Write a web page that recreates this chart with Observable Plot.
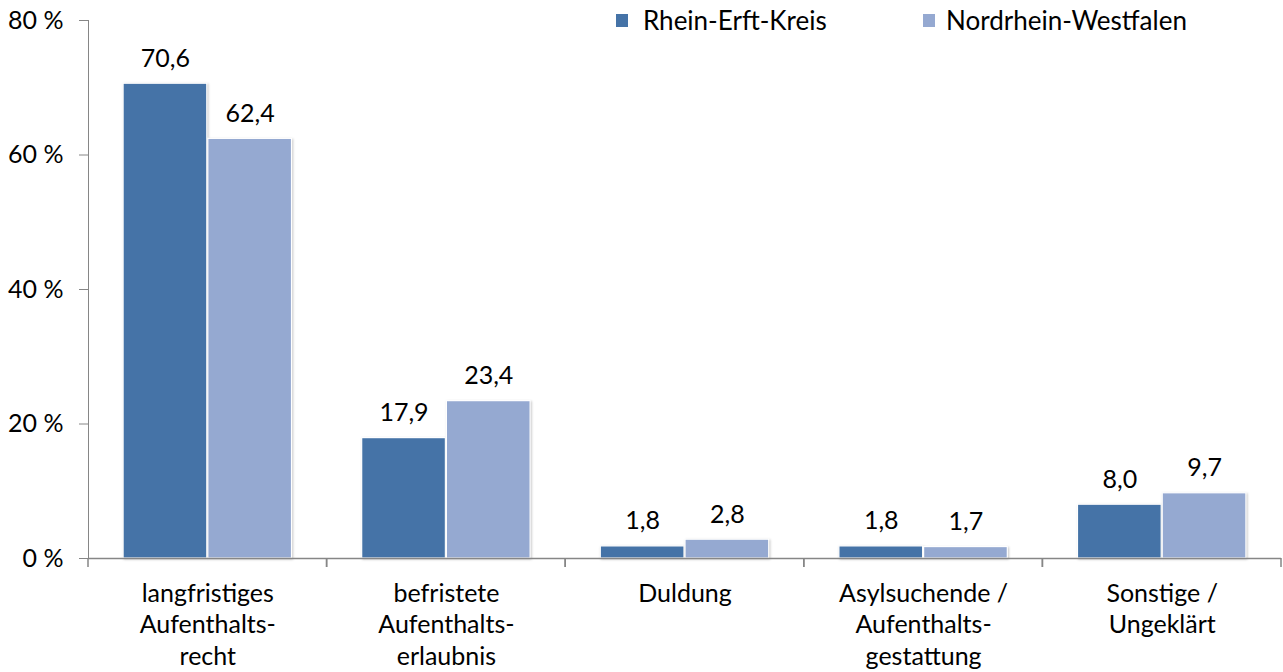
<!DOCTYPE html>
<html>
<head>
<meta charset="utf-8">
<script src="https://cdn.jsdelivr.net/npm/d3@7"></script>
<script src="https://cdn.jsdelivr.net/npm/@observablehq/plot@0.6"></script>
<style>
  body { margin: 0; background: #fff; font-family: Lato, "Open Sans", sans-serif; }
  #wrap { position: relative; width: 1283px; height: 672px; }
  #chart text { fill: #000; }
  #chart g[aria-label="bar"] rect { filter: drop-shadow(1px 1px 1px rgba(0,0,0,0.22)); }
  .lg-sw { position: absolute; top: 14px; width: 12px; height: 13px; }
  .lg-tx { position: absolute; top: 5px; font-size: 26px; line-height: 31px; color: #000; white-space: nowrap; }
</style>
</head>
<body>
<div id="wrap">
  <div id="chart"></div>
  <div id="legend"></div>
</div>
<script>
const categories = [
  "langfristiges\nAufenthalts-\nrecht",
  "befristete\nAufenthalts-\nerlaubnis",
  "Duldung",
  "Asylsuchende /\nAufenthalts-\ngestattung",
  "Sonstige /\nUngeklärt"
];
const series = ["Rhein-Erft-Kreis", "Nordrhein-Westfalen"];
const rheinErftKreis = [70.6, 17.9, 1.8, 1.8, 8.0];
const nordrheinWestfalen = [62.4, 23.4, 2.8, 1.7, 9.7];
const yTicks = [0, 20, 40, 60, 80];
const colors = ["#4573A7", "#95A9D1"];

const data = categories.flatMap((c, i) => [
  {cat: c, series: series[0], value: rheinErftKreis[i]},
  {cat: c, series: series[1], value: nordrheinWestfalen[i]}
]);

const fmt = v => v.toFixed(1).replace(".", ",");

// tick marks at the category boundaries on the x axis
const boundaryTicks = (index, scales, values, dimensions) => {
  const g = d3.create("svg:g").attr("stroke", "#868686").attr("stroke-width", 1.5);
  const y0 = scales.y(0);
  const xs = [dimensions.marginLeft, dimensions.width - dimensions.marginRight];
  for (const x of xs) {
    g.append("line").attr("x1", x).attr("x2", x).attr("y1", y0).attr("y2", y0 + 9);
  }
  return g.node();
};

const chart = Plot.plot({
  width: 1283,
  height: 672,
  marginLeft: 88,
  marginRight: 2,
  marginTop: 20,
  marginBottom: 114,
  style: {fontFamily: "Lato, 'Open Sans', sans-serif", fontSize: "25px", color: "#868686", background: "#fff"},
  fx: {domain: categories, padding: 0, round: false, axis: null},
  x: {domain: series, axis: null, paddingInner: 0.012, paddingOuter: 0.414, round: false},
  y: {domain: [0, 80], ticks: yTicks, tickFormat: d => d + " %", tickSize: 9, tickPadding: 16, line: true, label: null},
  color: {domain: series, range: colors},
  marks: [
    Plot.barY(data, {fx: "cat", x: "series", y: "value", fill: "series", stroke: "#fff", strokeWidth: 1.2}),
    Plot.text(data, {fx: "cat", x: "series", y: "value", text: d => fmt(d.value), dy: -17, lineAnchor: "bottom"}),
    Plot.ruleY([0], {stroke: "#868686", strokeWidth: 1.5}),
    boundaryTicks,
    Plot.text(categories, {fx: d => d, text: d => d, frameAnchor: "bottom", lineAnchor: "top", dy: 21, lineHeight: 1.26})
  ]
});
document.getElementById("chart").appendChild(chart);

// legend
const legend = document.getElementById("legend");
const swatchX = [616, 923];
const textX = [643, 946];
series.forEach((s, i) => {
  const sw = document.createElement("div");
  sw.className = "lg-sw";
  sw.style.left = swatchX[i] + "px";
  sw.style.background = colors[i];
  legend.appendChild(sw);
  const tx = document.createElement("div");
  tx.className = "lg-tx";
  tx.style.left = textX[i] + "px";
  tx.textContent = s;
  legend.appendChild(tx);
});
</script>
</body>
</html>
